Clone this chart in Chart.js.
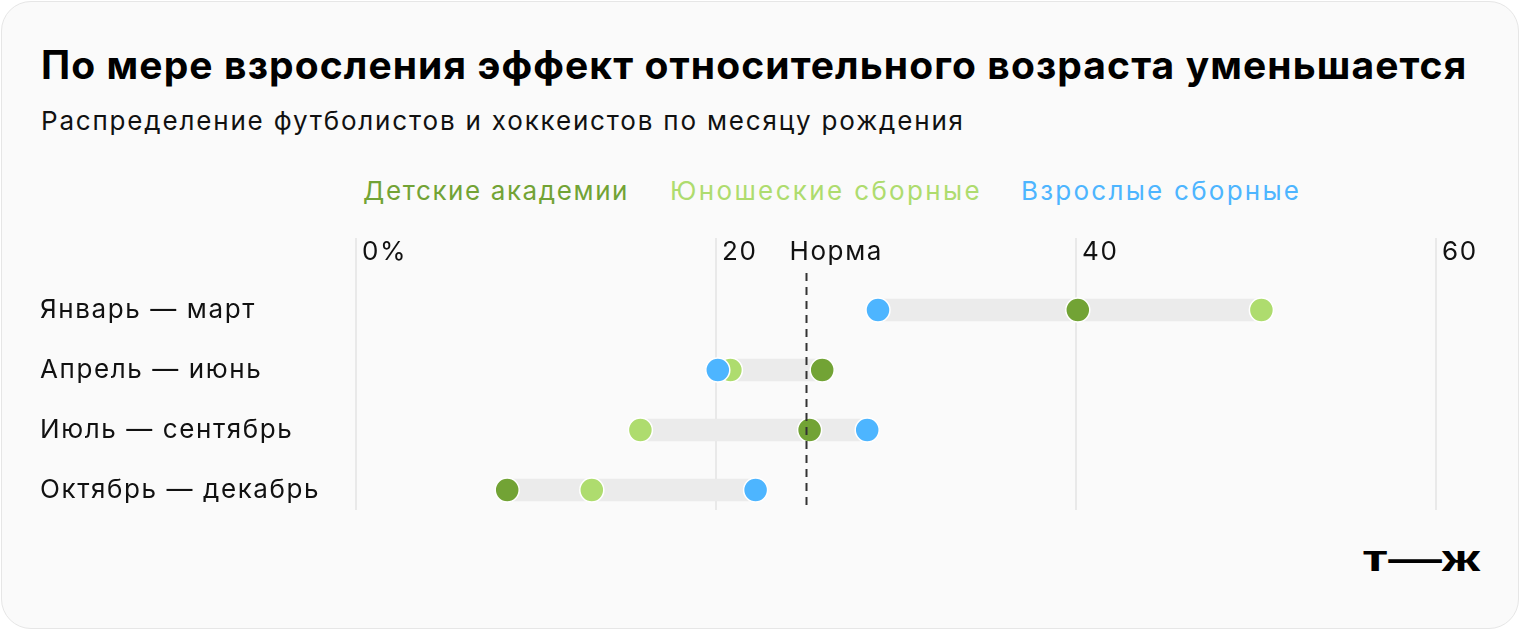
<!DOCTYPE html>
<html><head><meta charset="utf-8">
<script src="https://cdn.jsdelivr.net/npm/chart.js@4/dist/chart.umd.min.js"></script>
<style>
html,body{margin:0;padding:0;background:#fff;}
#card{position:absolute;left:1px;top:1px;width:1516px;height:626px;background:#fafafa;border:1px solid #e6e6e6;border-radius:30px;overflow:hidden;font-family:Inter,"Noto Sans",sans-serif;}
#title{position:absolute;left:39px;top:39px;font-size:39px;font-weight:700;color:#000;white-space:nowrap;letter-spacing:1.1px;}
#sub{position:absolute;left:39px;top:103px;font-size:26px;color:#111;white-space:nowrap;letter-spacing:1.82px;}
.lg{position:absolute;top:173px;font-size:26px;white-space:nowrap;}
#logo{position:absolute;left:1360px;top:536px;font-size:37px;font-weight:900;color:#000;font-family:"Liberation Sans",Arial,sans-serif;transform-origin:0 0;}
#c{position:absolute;left:0;top:0;}
</style></head>
<body>
<div id="card">
<div id="title">По мере взросления эффект относительного возраста уменьшается</div>
<div id="sub">Распределение футболистов и хоккеистов по месяцу рождения</div>
<div id="logo">т—ж</div>
</div>
<canvas id="c" width="1520" height="630"></canvas>
<script>
const categories = ["Январь — март", "Апрель — июнь", "Июль — сентябрь", "Октябрь — декабрь"];
const seriesNames = ["Детские академии", "Юношеские сборные", "Взрослые сборные"];
const seriesColors = ["#72a335", "#aedc6e", "#4db5ff"];
const academies = [40.1, 25.9, 25.2, 8.4];
const youth = [50.3, 20.8, 15.8, 13.1];
const adults = [29.0, 20.1, 28.4, 22.2];
const NORM = 25;
const NORM_LABEL = "Норма";
const xTicks = [0, 20, 40, 60];

// legend (HTML)
const card = document.getElementById('card');
const legendLeft = [361, 668, 1019];
const legendSpacing = [1.6, 2.35, 2.25];
seriesNames.forEach((n, i) => {
  const s = document.createElement('div');
  s.className = 'lg';
  s.textContent = n; s.style.color = seriesColors[i];
  s.style.left = legendLeft[i] + 'px';
  s.style.letterSpacing = legendSpacing[i] + 'px';
  card.appendChild(s);
});
// fit logo width
const logo = document.getElementById('logo');
const lw = logo.getBoundingClientRect().width;
logo.style.transform = 'scaleX(' + (118 / lw) + ')';

const seriesValues = [academies, youth, adults];
const ranges = categories.map((c, i) => {
  const v = seriesValues.map(s => s[i]);
  return [Math.min(...v), Math.max(...v)];
});
const pts = arr => arr.map((v, i) => ({x: v, y: i}));

const FONT = 'Inter, "Noto Sans", sans-serif';

const spacingPlugin = {
  id: 'spacing',
  beforeDraw(chart) { chart.ctx.letterSpacing = '1.6px'; }
};

const normPlugin = {
  id: 'norm',
  afterDatasetsDraw(chart) {
    const {ctx, chartArea, scales} = chart;
    const x = Math.round(scales.x.getPixelForValue(NORM)) + 0.5;
    ctx.save();
    ctx.strokeStyle = '#333';
    ctx.lineWidth = 2;
    ctx.setLineDash([8, 6]);
    ctx.beginPath();
    ctx.moveTo(x, chartArea.top - 7);
    ctx.lineTo(x, chartArea.bottom);
    ctx.stroke();
    ctx.setLineDash([]);
    ctx.fillStyle = '#111';
    ctx.font = '26px ' + FONT;
    ctx.letterSpacing = '1.6px';
    ctx.textAlign = 'left';
    ctx.textBaseline = 'middle';
    ctx.fillText(NORM_LABEL, x - 17, 252);
    ctx.restore();
  }
};

const dot = (data, i, order) => ({
  type: 'line', label: seriesNames[i], data: pts(data), showLine: false,
  pointRadius: 12, pointHoverRadius: 12, pointBackgroundColor: seriesColors[i],
  pointBorderColor: '#ffffff', pointBorderWidth: 1.5, order: order, clip: false
});

new Chart(document.getElementById('c'), {
  type: 'bar',
  data: {
    datasets: [
      dot(adults, 2, 0),
      dot(youth, 1, 1),
      dot(academies, 0, 2),
      {type: 'bar', label: 'range', data: ranges.map((r, i) => ({x: r, y: i})),
       backgroundColor: '#ebebeb', barThickness: 22, order: 3, borderSkipped: false}
    ]
  },
  options: {
    indexAxis: 'y',
    responsive: false,
    animation: false,
    events: [],
    layout: {padding: {left: 40, right: 84, top: 230, bottom: 120}},
    plugins: {legend: {display: false}, tooltip: {enabled: false}},
    scales: {
      x: {
        type: 'linear', position: 'top', min: 0, max: 60,
        afterBuildTicks: s => { s.ticks = xTicks.map(v => ({value: v})); },
        afterFit: s => { s.height = 50; },
        border: {display: false},
        grid: {color: '#e9e9e9', lineWidth: 2, drawTicks: true, tickLength: 42, tickColor: '#e9e9e9'},
        ticks: {align: 'start', labelOffset: 6, padding: -29.5, color: '#111',
          font: {size: 26, family: FONT},
          callback: v => v === 0 ? '0%' : String(v)}
      },
      y: {
        type: 'linear', reverse: true, min: -0.5, max: 3 + 1/3, offset: false,
        afterBuildTicks: s => { s.ticks = categories.map((c, i) => ({value: i})); },
        afterFit: s => { s.width = 316; },
        border: {display: false},
        grid: {display: false, offset: false},
        ticks: {crossAlign: 'far', color: '#111', font: {size: 26, family: FONT},
          callback: v => categories[v] ?? ''}
      }
    }
  },
  plugins: [spacingPlugin, normPlugin]
});
</script>
</body></html>
